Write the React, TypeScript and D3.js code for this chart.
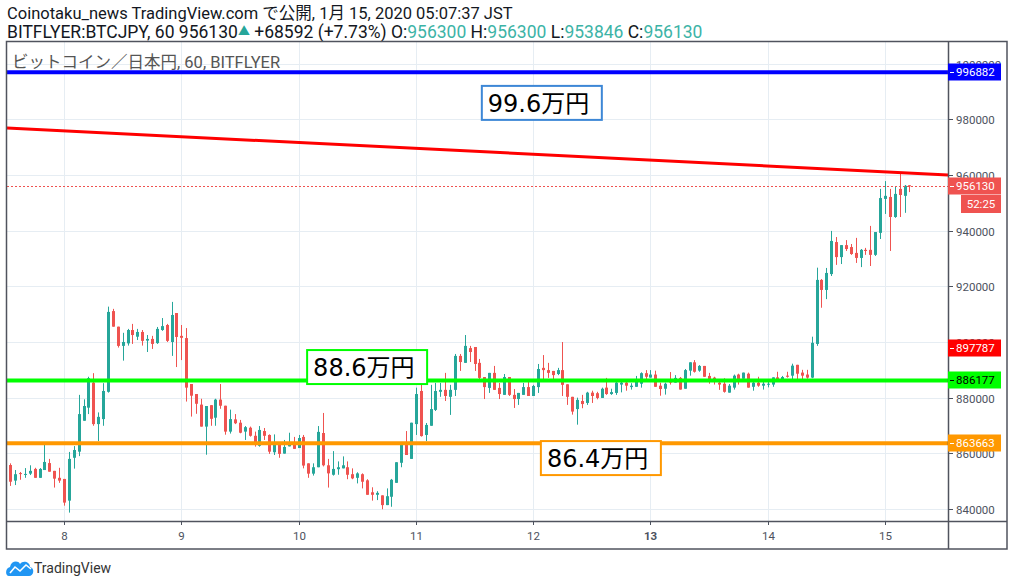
import * as d3 from 'd3';

// BITFLYER BTC/JPY, 60 min candles, first candle 2020-01-07 13:00 (JST)
// prices in thousand JPY
const firstCandle = new Date(2020, 0, 7, 13);

const opens = [
  855.8, 850.2, 852.9, 852.3, 852.7, 854.4, 851.2, 854.0, 856.5, 853.7,
  851.2, 850.8, 843.0, 858.4, 860.6, 871.7, 876.4, 885.4, 870.5, 872.3,
  882.1, 911.1, 905.5, 898.6, 899.5, 904.3, 901.9, 903.6, 900.5, 901.1,
  899.6, 904.3, 906.1, 900.0, 910.4, 902.2, 901.4, 884.9, 881.3, 877.5,
  869.6, 877.3, 872.8, 879.3, 877.1, 867.8, 872.2, 871.0, 867.8, 869.2,
  866.3, 862.7, 868.0, 866.6, 860.4, 863.0, 859.9, 862.5, 863.0, 861.9,
  865.9, 856.4, 852.7, 855.0, 867.3, 855.7, 852.3, 854.3, 854.6, 855.0,
  852.5, 851.2, 852.5, 850.3, 846.0, 845.1, 844.9, 841.4, 844.4, 849.4,
  856.6, 863.0, 858.0, 870.5, 882.4, 866.6, 869.9, 875.6, 882.1, 882.8,
  880.3, 882.8, 895.0, 892.5, 897.8, 898.2, 892.5, 887.4, 883.5, 888.9,
  883.5, 881.0, 887.4, 881.0, 879.5, 881.0, 883.8, 880.6, 883.8, 890.7,
  889.9, 889.6, 888.5, 889.9, 884.8, 880.3, 875.9, 878.8, 878.1, 881.8,
  881.6, 879.9, 883.6, 881.3, 881.7, 884.7, 885.4, 883.8, 883.9, 885.0,
  888.8, 887.2, 888.3, 884.3, 883.2, 886.1, 885.4, 887.1, 883.2, 889.7,
  892.7, 889.7, 891.4, 887.8, 887.2, 885.4, 885.0, 881.8, 883.6, 888.3,
  886.8, 888.6, 883.9, 885.4, 884.3, 884.7, 884.7, 887.3, 886.7, 887.9,
  887.9, 891.8, 889.0, 888.3, 887.2, 899.3, 922.3, 918.7, 924.4, 935.9,
  930.5, 934.8, 934.1, 932.0, 930.2, 933.1, 933.1, 931.3, 939.2, 951.4,
  952.1, 944.9, 955.0, 952.5, 956.3,
];

const highs = [
  856.4, 854.0, 853.3, 854.7, 855.7, 854.8, 854.7, 863.0, 858.0, 853.7,
  854.8, 850.8, 860.5, 862.6, 881.0, 879.4, 887.5, 888.8, 874.7, 885.2,
  912.7, 911.9, 905.5, 903.3, 904.7, 906.5, 904.7, 904.3, 902.5, 902.2,
  905.4, 908.6, 906.5, 914.4, 910.4, 906.1, 905.0, 884.9, 881.3, 879.6,
  877.0, 877.3, 879.6, 884.9, 877.1, 875.7, 874.1, 872.0, 869.8, 869.6,
  867.8, 869.8, 869.1, 866.8, 866.8, 863.0, 864.8, 867.4, 865.9, 866.6,
  866.6, 856.4, 856.4, 869.8, 874.5, 858.0, 860.8, 857.1, 858.9, 857.1,
  854.6, 853.2, 852.8, 850.7, 847.8, 846.4, 844.9, 847.4, 850.8, 856.8,
  863.2, 868.0, 871.0, 883.6, 887.8, 870.9, 884.6, 885.3, 885.3, 888.9,
  884.6, 895.7, 895.7, 902.5, 898.6, 898.2, 893.9, 887.4, 888.9, 891.4,
  885.3, 888.5, 887.4, 883.1, 881.7, 885.3, 886.7, 884.6, 892.1, 895.3,
  892.5, 889.6, 890.7, 900.0, 884.8, 880.3, 880.0, 881.0, 882.1, 882.5,
  882.1, 883.6, 887.1, 883.2, 886.3, 886.3, 886.3, 885.2, 887.8, 889.1,
  889.9, 889.9, 889.7, 885.4, 885.4, 889.2, 888.1, 887.4, 890.3, 892.7,
  893.5, 891.7, 891.4, 888.9, 887.5, 886.6, 887.0, 884.9, 888.3, 888.6,
  889.0, 889.0, 885.7, 887.5, 885.7, 885.7, 887.3, 889.3, 887.8, 889.3,
  892.2, 891.8, 890.0, 890.0, 901.9, 926.7, 922.6, 926.6, 939.9, 937.7,
  934.8, 936.6, 935.2, 937.4, 933.4, 933.8, 941.7, 939.5, 955.0, 957.8,
  955.0, 955.7, 960.7, 956.4, 956.3,
];

const lows = [
  848.3, 848.6, 850.5, 851.2, 852.2, 851.2, 851.2, 854.0, 853.4, 847.7,
  849.4, 841.2, 838.7, 854.5, 859.0, 871.7, 874.1, 869.9, 864.4, 869.9,
  881.8, 905.5, 898.0, 893.3, 898.7, 899.3, 900.7, 898.7, 896.4, 897.5,
  899.3, 904.0, 900.0, 895.0, 891.0, 893.5, 878.6, 873.2, 874.2, 869.6,
  859.5, 869.9, 869.9, 876.0, 866.7, 867.1, 870.5, 867.2, 864.8, 866.0,
  862.4, 862.4, 864.8, 859.8, 859.4, 858.4, 859.9, 862.5, 861.6, 861.9,
  854.6, 851.2, 852.0, 855.0, 855.3, 847.7, 852.0, 852.3, 854.6, 850.7,
  850.7, 849.2, 847.4, 845.1, 843.0, 843.2, 839.9, 841.4, 840.8, 849.4,
  855.0, 859.4, 858.0, 866.6, 866.0, 864.4, 869.9, 875.2, 880.3, 878.8,
  873.8, 880.6, 889.6, 892.5, 892.8, 889.6, 886.7, 879.5, 881.7, 882.8,
  879.5, 881.0, 880.6, 876.3, 877.4, 881.0, 880.6, 880.6, 881.7, 886.7,
  887.1, 886.3, 888.1, 880.6, 877.4, 873.9, 870.3, 876.2, 877.4, 878.1,
  879.4, 879.9, 881.0, 881.0, 881.0, 881.9, 882.5, 882.9, 883.9, 883.6,
  886.1, 887.2, 883.9, 880.7, 881.1, 884.7, 885.4, 882.9, 883.2, 887.9,
  889.0, 889.3, 887.5, 885.0, 884.7, 882.8, 881.8, 881.8, 882.9, 884.7,
  886.8, 883.6, 882.5, 883.9, 882.9, 883.7, 883.9, 886.3, 886.5, 887.2,
  886.6, 886.6, 886.5, 886.8, 887.0, 898.6, 912.3, 915.4, 923.7, 927.7,
  928.0, 932.7, 931.3, 928.4, 926.9, 931.3, 927.3, 930.9, 937.0, 946.0,
  932.7, 944.6, 944.9, 946.4, 953.846,
];

const closes = [
  849.8, 852.5, 852.6, 852.6, 853.7, 851.2, 854.4, 856.9, 853.4, 850.9,
  850.2, 842.3, 858.0, 861.2, 874.1, 877.0, 887.0, 870.5, 873.1, 882.4,
  910.8, 905.5, 898.6, 900.0, 904.3, 902.5, 903.6, 900.4, 901.1, 899.3,
  904.7, 905.7, 900.4, 909.7, 901.8, 901.5, 883.6, 880.7, 877.8, 869.6,
  877.0, 872.4, 879.3, 877.1, 867.8, 872.3, 870.8, 867.4, 869.4, 866.3,
  863.8, 868.4, 866.3, 860.6, 863.0, 859.8, 862.3, 863.0, 861.6, 865.5,
  855.6, 852.7, 855.0, 867.7, 855.7, 852.8, 854.4, 855.0, 855.7, 852.3,
  851.0, 852.8, 849.8, 845.1, 845.1, 845.8, 841.4, 844.6, 850.5, 856.8,
  863.0, 859.4, 871.0, 881.3, 866.2, 870.2, 875.9, 882.4, 882.8, 880.6,
  882.8, 895.0, 892.8, 898.6, 896.4, 892.1, 887.1, 883.8, 888.9, 882.8,
  881.3, 887.4, 881.0, 879.5, 881.7, 883.8, 880.6, 884.2, 890.3, 889.9,
  888.9, 888.1, 889.9, 884.6, 880.3, 875.0, 879.2, 877.7, 881.8, 880.6,
  879.9, 883.2, 881.3, 882.0, 885.4, 885.4, 884.3, 884.3, 886.0, 888.8,
  887.5, 888.3, 883.9, 883.1, 885.0, 885.4, 887.1, 882.9, 889.9, 892.7,
  889.3, 891.4, 887.5, 886.3, 886.1, 884.7, 882.1, 884.3, 887.9, 886.3,
  889.0, 883.6, 885.4, 884.3, 885.0, 885.0, 887.3, 886.6, 887.4, 887.5,
  891.5, 888.6, 887.9, 887.2, 899.7, 922.3, 918.7, 924.8, 936.3, 930.5,
  934.8, 933.4, 931.6, 930.2, 933.1, 932.7, 931.3, 939.5, 951.7, 952.5,
  944.9, 953.2, 952.8, 956.1, 956.13,
];

const priceTicks = [840000, 860000, 880000, 900000, 920000, 940000, 960000, 980000, 1000000];
const dayTicks = [8, 9, 10, 11, 12, 13, 14, 15];

// drawn levels (JPY)
const resistanceLevel = 996882;
const supportLevel = 886177;
const lowerLevel = 863663;
const markerLevel = 897787;
const lastPrice = 956130;
const countdown = '52:25';
// red trend line end points
const trendStart = { time: new Date(2020, 0, 7, 12), price: 976900 };
const trendEnd = { time: new Date(2020, 0, 15, 13), price: 960000 };

// text notes: label, anchor time, top price
const notes = [
  { label: '99.6万円', time: new Date(2020, 0, 11, 13, 30), price: 992000 },
  { label: '88.6万円', time: new Date(2020, 0, 10, 1, 45), price: 897100 },
  { label: '86.4万円', time: new Date(2020, 0, 12, 1, 35), price: 864400 },
];

const W = 1014;
const H = 586;
const plotL = 7;
const plotR = 948;
const plotT = 42;
const plotB = 521;
const axisB = 549;
const frameR = 1007;

const UP = '#26a69a';
const DOWN = '#ef5350';
const font = "Roboto, 'Noto Sans CJK JP', sans-serif";

const x = d3
  .scaleTime()
  .domain([new Date(2020, 0, 8), new Date(2020, 0, 15)])
  .range([64, 885]);

const y = d3.scaleLinear().domain([840000, 980000]).range([509, 119.3]);

const candles = opens.map((o, i) => ({
  t: d3.timeHour.offset(firstCandle, i),
  o: o * 1000,
  h: highs[i] * 1000,
  l: lows[i] * 1000,
  c: closes[i] * 1000,
}));

const trendPath = d3
  .line<{ time: Date; price: number }>()
  .x((d) => x(d.time))
  .y((d) => y(d.price))([trendStart, trendEnd]);

const PriceLabel = ({ value, bg, fg, text }: { value: number; bg: string; fg: string; text?: string }) => {
  const cy = Math.round(y(value));
  return (
    <g>
      <rect x={plotR} y={cy - 8.5} width={53} height={17} fill={bg} />
      <line x1={plotR + 2} x2={plotR + 6} y1={cy + 0.5} y2={cy + 0.5} stroke={fg} />
      <text x={plotR + 8} y={cy} dy="0.36em" fill={fg} fontSize={11.5} fontFamily={font}>
        {text ?? value}
      </text>
    </g>
  );
};

const Logo = () => (
  <g transform="translate(6, 556)">
    <path
      d="M3 20 C-1 20 -1 12 4 11 C5 5 12 4 14 8 C17 4 24 6 24 11 C29 12 28 20 23 20 Z"
      fill="#2196f3"
    />
    <polyline points="4,17 9,11 14,15 20,9 25,13" fill="none" stroke="#ffffff" strokeWidth={1.6} />
    <text x={28} y={17} fontSize={14} fill="#333" fontFamily={font}>
      TradingView
    </text>
  </g>
);

export default function App() {
  const clip = 'plot-clip';
  return (
    <svg
      width={W}
      height={H}
      style={{ position: 'absolute', left: 0, top: 0, background: '#fff' }}
      fontFamily={font}
    >
      <defs>
        <clipPath id={clip}>
          <rect x={plotL} y={plotT} width={plotR - plotL} height={plotB - plotT} />
        </clipPath>
      </defs>
      <rect width={W} height={H} fill="#fff" />

      {/* header */}
      <text x={7} y={19} fontSize={16.5} fill="#131722">
        Coinotaku_news TradingView.com で公開, 1月 15, 2020 05:07:37 JST
      </text>
      <text x={7} y={38} fontSize={17.5} fill="#131722">
        <tspan>BITFLYER:BTCJPY, 60 956130</tspan>
        <tspan fill={UP} fontSize={12} dy={-2}>▲</tspan>
        <tspan dy={2}> +68592 (+7.73%) O:</tspan>
        <tspan fill="#3cb3a6">956300</tspan>
        <tspan> H:</tspan>
        <tspan fill="#3cb3a6">956300</tspan>
        <tspan> L:</tspan>
        <tspan fill="#3cb3a6">953846</tspan>
        <tspan> C:</tspan>
        <tspan fill="#3cb3a6">956130</tspan>
      </text>

      {/* grid */}
      <g stroke="#e6edf3" strokeWidth={1}>
        {priceTicks.map((p) => (
          <line key={p} x1={plotL} x2={plotR} y1={Math.round(y(p)) + 0.5} y2={Math.round(y(p)) + 0.5} />
        ))}
        {dayTicks.map((d) => {
          const px = Math.round(x(new Date(2020, 0, d))) + 0.5;
          return <line key={d} x1={px} x2={px} y1={plotT} y2={plotB} />;
        })}
      </g>

      {/* legend */}
      <text x={12} y={68} fontSize={16.5} fill="#555">
        ビットコイン／日本円, 60, BITFLYER
      </text>

      <g clipPath={`url(#${clip})`}>
        {/* candles */}
        {candles.map((d, i) => {
          const cx = Math.round(x(d.t)) + 0.5;
          const col = d.c >= d.o ? UP : DOWN;
          const top = y(Math.max(d.o, d.c));
          const bot = y(Math.min(d.o, d.c));
          return (
            <g key={i}>
              <line x1={cx} x2={cx} y1={y(d.h)} y2={y(d.l)} stroke={col} strokeWidth={1} />
              <rect x={cx - 1.5} y={top} width={3} height={Math.max(1, bot - top)} fill={col} />
            </g>
          );
        })}

        {/* last price line */}
        <line
          x1={plotL}
          x2={plotR}
          y1={Math.round(y(lastPrice)) + 0.5}
          y2={Math.round(y(lastPrice)) + 0.5}
          stroke={DOWN}
          strokeDasharray="2 2"
        />

        {/* drawn levels */}
        <line x1={plotL} x2={plotR} y1={y(resistanceLevel)} y2={y(resistanceLevel)} stroke="#0000ff" strokeWidth={4} />
        <line x1={plotL} x2={plotR} y1={y(supportLevel)} y2={y(supportLevel)} stroke="#00ff00" strokeWidth={4} />
        <line x1={plotL} x2={plotR} y1={y(lowerLevel)} y2={y(lowerLevel)} stroke="#ff9800" strokeWidth={4} />
        <path d={trendPath ?? ''} stroke="#ff0000" strokeWidth={3} fill="none" />

        {/* notes */}
        {notes.map((n, i) => {
          const stroke = ['#3d87d6', '#00ff00', '#ff9800'][i];
          const nx = x(n.time);
          const ny = y(n.price);
          return (
            <g key={n.label}>
              <rect x={nx} y={ny} width={120} height={34} fill="#fff" stroke={stroke} strokeWidth={2} />
              <text
                x={nx + 6}
                y={ny + 17}
                dy="0.36em"
                fontSize={24}
                fill="#000"
                fontFamily="'DejaVu Sans', 'Noto Sans CJK JP', sans-serif"
              >
                {n.label}
              </text>
            </g>
          );
        })}
      </g>

      {/* frame */}
      <g stroke="#50535e" strokeWidth={1.5} fill="none">
        <rect x={6.5} y={plotT - 0.5} width={frameR - 6.5} height={axisB - plotT + 0.5} />
        <line x1={plotR + 0.5} x2={plotR + 0.5} y1={plotT} y2={axisB} />
        <line x1={6.5} x2={frameR} y1={plotB + 0.5} y2={plotB + 0.5} />
      </g>

      {/* price axis */}
      <g fontSize={11.5} fill="#4c525e">
        {priceTicks.map((p) => {
          const py = Math.round(y(p)) + 0.5;
          return (
            <g key={p}>
              <line x1={plotR} x2={plotR + 5} y1={py} y2={py} stroke="#4c525e" />
              <text x={plotR + 8} y={py} dy="0.36em">
                {p}
              </text>
            </g>
          );
        })}
      </g>

      {/* time axis */}
      <g fontSize={11.5} fill="#4c525e" textAnchor="middle">
        {dayTicks.map((d) => {
          const px = Math.round(x(new Date(2020, 0, d))) + 0.5;
          return (
            <g key={d}>
              <line x1={px} x2={px} y1={plotB} y2={plotB + 4} stroke="#4c525e" />
              <text x={px} y={540} fontWeight={d === 13 ? 'bold' : 'normal'}>
                {d}
              </text>
            </g>
          );
        })}
      </g>

      {/* axis labels */}
      <PriceLabel value={resistanceLevel} bg="#0000ff" fg="#ffffff" />
      <PriceLabel value={lastPrice} bg={DOWN} fg="#ffffff" />
      <rect x={961} y={Math.round(y(lastPrice)) + 9} width={40} height={18} fill={DOWN} />
      <text
        x={981}
        y={Math.round(y(lastPrice)) + 18}
        dy="0.36em"
        textAnchor="middle"
        fontSize={11.5}
        fill="#fff"
      >
        {countdown}
      </text>
      <PriceLabel value={markerLevel} bg="#ff0000" fg="#ffffff" />
      <PriceLabel value={supportLevel} bg="#00ff00" fg="#000000" />
      <PriceLabel value={lowerLevel} bg="#ff9800" fg="#ffffff" />

      <Logo />
    </svg>
  );
}
